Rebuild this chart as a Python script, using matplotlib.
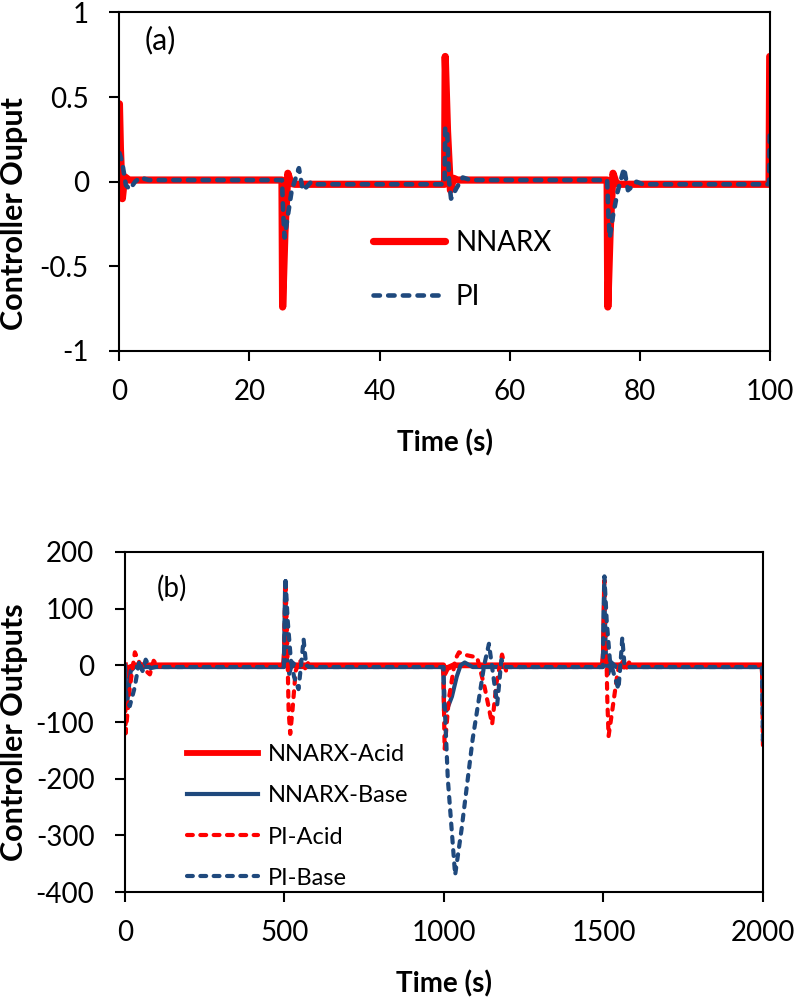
import numpy as np
import matplotlib.pyplot as plt

plt.rcParams['font.family'] = ['Lato', 'DejaVu Sans']

# ---- (a) single-loop controller output, time in seconds
t_nnarx = [0, 0.15, 0.45, 0.8, 1.5,
           25.0, 25.1, 25.45, 25.9, 26.4, 27.0,
           50.0, 50.1, 50.45, 50.9, 51.4, 52.0,
           75.0, 75.1, 75.45, 75.9, 76.4, 77.0,
           99.9, 100.0]
u_nnarx = [0.46, 0.2, -0.1, 0.03, 0.01,
           0.01, -0.74, -0.3, 0.05, -0.01, -0.015,
           -0.015, 0.74, 0.3, -0.05, 0.02, 0.01,
           0.01, -0.74, -0.3, 0.05, -0.01, -0.015,
           -0.015, 0.74]

t_pi = [0, 0.4, 1.0, 1.6, 2.4, 3.2, 4.5,
        25.0, 25.2, 25.4, 25.9, 26.5, 27.6, 28.2, 28.8, 29.5, 30.5,
        50.0, 50.1, 50.4, 50.7, 51.0, 51.8, 52.8, 54.0,
        75.0, 75.2, 75.4, 75.9, 76.6, 77.6, 78.2, 78.8, 79.5, 80.5,
        99.9, 100.0]
u_pi = [0.17, 0.12, -0.02, -0.045, 0.0, 0.025, 0.01,
        0.01, -0.2, -0.33, -0.2, -0.05, 0.08, -0.05, -0.03, 0.0, -0.015,
        -0.015, 0.32, 0.3, 0.0, -0.1, -0.04, 0.025, 0.01,
        0.01, -0.2, -0.33, -0.2, -0.06, 0.08, -0.05, -0.03, 0.0, -0.015,
        -0.015, 0.3]

# ---- (b) acid / base controller outputs
t_nn_acid = [0, 2, 10, 30, 498, 501, 506, 520, 998, 1001, 1010, 1030,
             1498, 1501, 1506, 1520, 1998, 2000]
u_nn_acid = [0, -20, -5, 0, 0, 20, 5, 0, 0, -15, -5, 0,
             0, 20, 5, 0, 0, -15]

t_nn_base = [0, 1, 8, 18, 30, 498, 502, 508, 515, 525, 540,
             998, 1000, 1008, 1025, 1040, 1052, 1065, 1090,
             1498, 1502, 1508, 1515, 1525, 1540, 1998, 2000]
u_nn_base = [0, -75, -60, -10, -3, -3, 140, 10, -15, 5, -3,
             -3, -80, -80, -55, -20, 0, 5, -3,
             -3, 140, 10, -15, 5, -3, -3, -80]

t_pi_acid = [0, 2, 15, 31, 45, 62, 78, 90, 105, 120,
             498, 503, 508, 513, 518, 525, 535, 548, 560, 575, 590,
             998, 1002, 1015, 1035, 1047, 1070, 1104, 1128, 1151, 1165,
             1182, 1195, 1210,
             1498, 1503, 1508, 1512, 1516, 1525, 1545, 1557, 1568, 1580, 1595,
             1997, 2000]
u_pi_acid = [0, -120, -40, 23, 5, -8, -16, 8, -3, 0,
             0, 150, 60, -80, -121, -80, -10, 10, -10, 5, 0,
             0, -148, -60, 10, 23, 18, 14, -40, -104, -30,
             19, -10, 0,
             0, 150, 60, -60, -125, -90, -10, 10, -10, 5, 0,
             0, -145]

t_pi_base = [0, 5, 15, 30, 45, 55, 65, 80, 95,
             498, 503, 510, 520, 530, 544, 552, 560, 568, 580,
             998, 1003, 1012, 1035, 1055, 1090, 1126, 1141, 1155, 1167,
             1180, 1195,
             1498, 1503, 1510, 1520, 1535, 1547, 1553, 1559, 1566, 1580,
             1997, 2000]
u_pi_base = [0, -60, -72, -40, 8, -10, 10, -5, -3,
             -3, 155, 80, 10, -20, -42, 0, 46, 0, -3,
             -3, -80, -200, -370, -290, -130, 0, 38, -20, -69,
             10, -3,
             -3, 157, 80, 10, -20, -42, 0, 49, 0, -3,
             -3, -145]

RED = '#FF0000'
BLUE = '#1F497D'
TICK_FS = 20

fig = plt.figure(figsize=(7.96, 9.98), dpi=100)
ax1 = fig.add_axes([0.150, 0.6483, 0.817, 0.3392])
ax2 = fig.add_axes([0.157, 0.1062, 0.8015, 0.3407])

# panel (a)
ax1.plot(t_nnarx, u_nnarx, color=RED, lw=5.2, solid_capstyle='round',
         solid_joinstyle='round', label='NNARX')
ax1.plot(t_pi, u_pi, color=BLUE, lw=3.3, dashes=(1.4, 1.8),
         dash_capstyle='round', label='PI')
ax1.set_xlim(0, 100)
ax1.set_ylim(-1, 1)
ax1.set_xticks([0, 20, 40, 60, 80, 100])
ax1.set_yticks([-1, -0.5, 0, 0.5, 1])
ax1.set_yticklabels(['-1', '-0.5', '0', '0.5', '1'])
ax1.text(0.039, 0.919, '(a)', transform=ax1.transAxes, fontsize=22,
         va='center', ha='left')
ax1.set_xlabel('Time (s)', fontsize=20, fontweight='bold')
ax1.set_ylabel('Controller Ouput', fontsize=22, fontweight='bold')
ax1.xaxis.set_label_coords(0.5, -0.230)
ax1.yaxis.set_label_coords(-0.1407, 0.405)
ax1.legend(loc='center left', bbox_to_anchor=(0.39, 0.239), frameon=False,
           fontsize=20, handlelength=2.6, handletextpad=0.36,
           labelspacing=1.0, borderpad=0, borderaxespad=0)

# panel (b)
ax2.plot(t_nn_acid, u_nn_acid, color=RED, lw=4.2, label='NNARX-Acid')
ax2.plot(t_nn_base, u_nn_base, color=BLUE, lw=3.0, label='NNARX-Base')
ax2.plot(t_pi_acid, u_pi_acid, color=RED, lw=3.0, dashes=(1.4, 1.8),
         dash_capstyle='round', label='PI-Acid')
ax2.plot(t_pi_base, u_pi_base, color=BLUE, lw=3.0, dashes=(1.4, 1.8),
         dash_capstyle='round', label='PI-Base')
ax2.set_xlim(0, 2000)
ax2.set_ylim(-400, 200)
ax2.set_xticks([0, 500, 1000, 1500, 2000])
ax2.set_yticks([-400, -300, -200, -100, 0, 100, 200])
ax2.set_yticklabels(['-400', '-300', '-200', '-100', '0', '100', '200'])
ax2.text(0.05, 0.894, '(b)', transform=ax2.transAxes, fontsize=20,
         va='center', ha='left')
ax2.set_xlabel('Time (s)', fontsize=20, fontweight='bold')
ax2.set_ylabel('Controller Outputs', fontsize=22, fontweight='bold')
ax2.xaxis.set_label_coords(0.5, -0.229)
ax2.yaxis.set_label_coords(-0.152, 0.47)
ax2.legend(loc='center left', bbox_to_anchor=(0.097, 0.222), frameon=False,
           fontsize=17, handlelength=3.0, handletextpad=0.42,
           labelspacing=0.85, borderpad=0, borderaxespad=0)

for ax in (ax1, ax2):
    for s in ax.spines.values():
        s.set_linewidth(1.5)
    ax.tick_params(direction='out', length=7, width=1.5, labelsize=TICK_FS)
    ax.tick_params(axis='x', pad=13)
    ax.tick_params(axis='y', pad=15)

fig.savefig('out.png', dpi=100)
